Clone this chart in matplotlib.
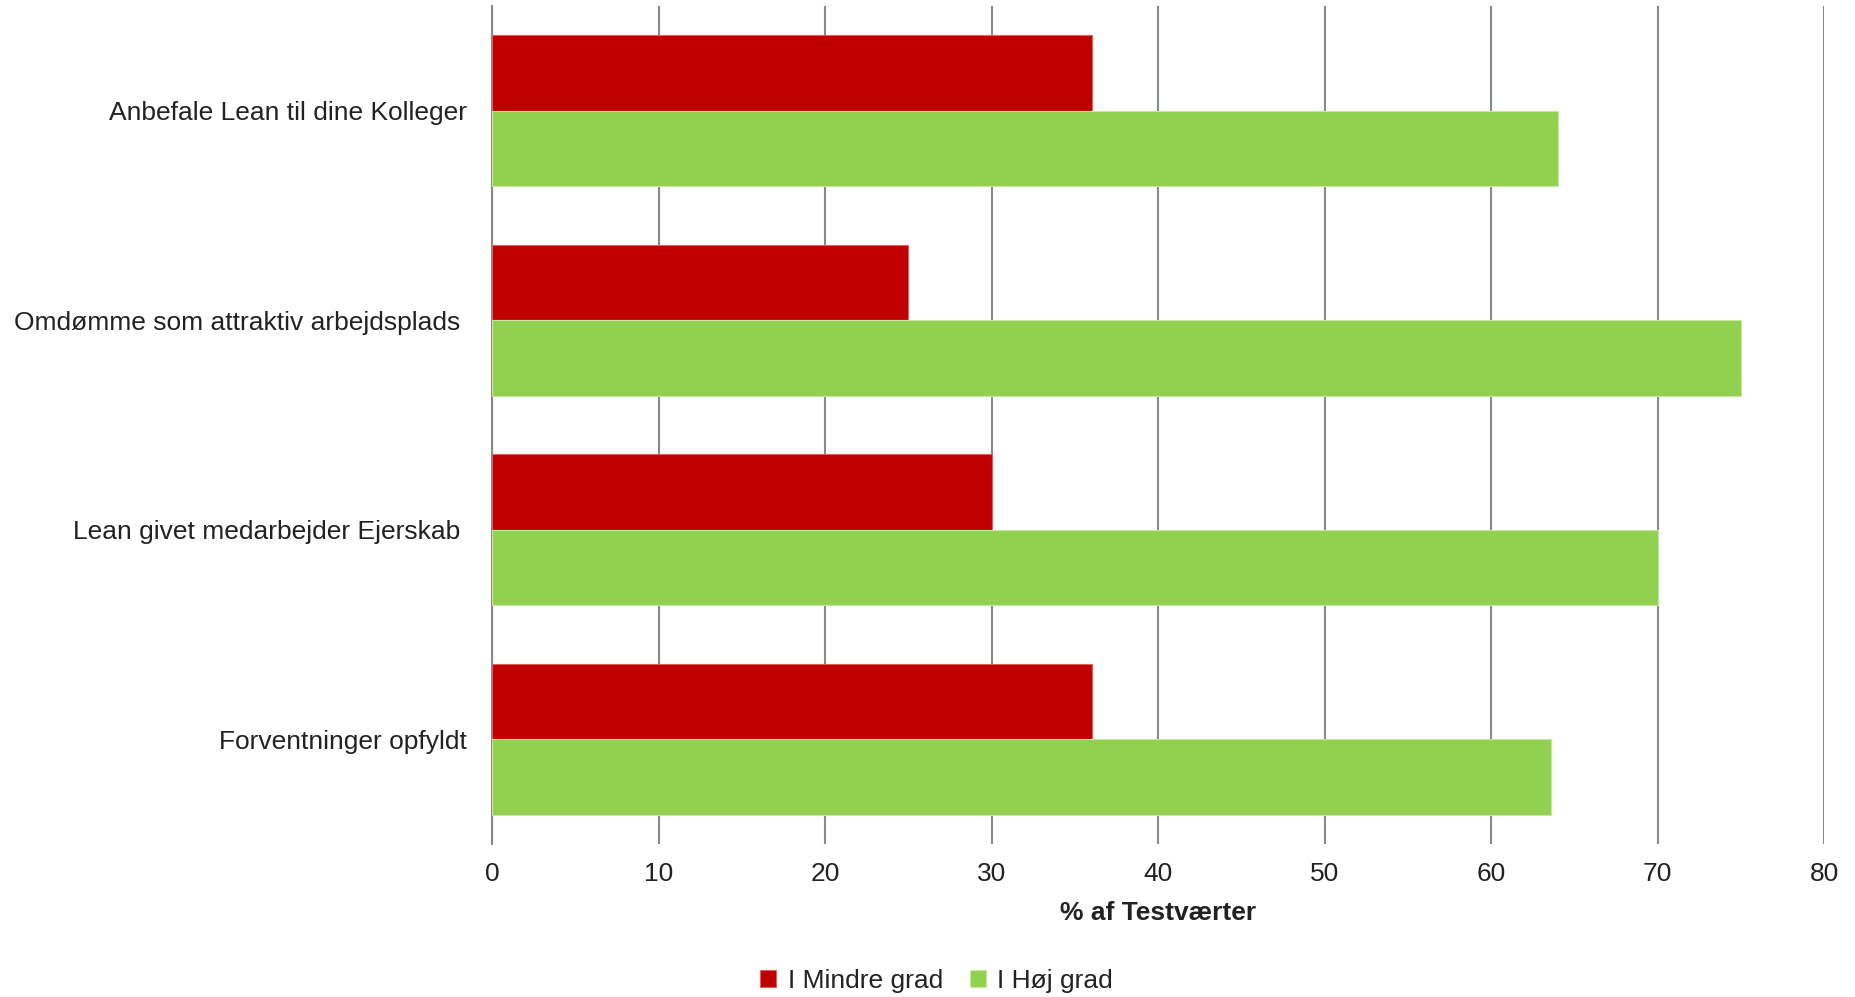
import matplotlib
matplotlib.use("Agg")
import matplotlib.pyplot as plt
import numpy as np

categories = ["Anbefale Lean til dine Kolleger", "Omdømme som attraktiv arbejdsplads ",
              "Lean givet medarbejder Ejerskab ", "Forventninger opfyldt"]
mindre = [36.0, 25.0, 30.0, 36.0]
hoej = [64.0, 75.0, 70.0, 63.6]
series_names = ["I Mindre grad", "I Høj grad"]
xticks = [0, 10, 20, 30, 40, 50, 60, 70, 80]

plt.rcParams['font.family'] = ['Liberation Sans', 'DejaVu Sans']

fig = plt.figure(figsize=(18.55, 9.97), dpi=100)
ax = fig.add_axes([0.2654, 0.1535, 0.7179, 0.8405])

n = len(categories)
y = np.arange(n)
h = 0.36
ax.barh(y - h/2, mindre, height=h, color="#C00000", edgecolor="#e06060", linewidth=0.8,
        label=series_names[0], zorder=3)
ax.barh(y + h/2, hoej, height=h, color="#92D050", edgecolor="#c4e8a0", linewidth=0.8,
        label=series_names[1], zorder=3)

ax.set_ylim(n - 0.5, -0.5)
ax.set_xlim(0, 80)
ax.set_xticks(xticks)
ax.set_xticklabels([str(t) for t in xticks])
ax.set_yticks(y)
ax.set_yticklabels(categories)
ax.tick_params(axis='y', length=0, pad=18, labelsize=19, labelcolor="#222222")
ax.tick_params(axis='x', length=0, pad=13, labelsize=19, labelcolor="#222222")
ax.grid(axis='x', color="#898989", linewidth=1.5, zorder=0)
for s in ['top', 'right', 'bottom']:
    ax.spines[s].set_visible(False)
ax.spines['left'].set_color("#898989")
ax.spines['left'].set_linewidth(1.5)
ax.set_xlabel("% af Testværter", fontsize=19, fontweight='bold', color="#222222", labelpad=11)

fig.legend(loc='center', bbox_to_anchor=(0.505, 0.016), ncol=2, frameon=False,
           fontsize=19, handlelength=0.6, handleheight=0.6, handletextpad=0.45, columnspacing=1.0,
           labelcolor="#222222")

fig.savefig("out.png", dpi=100)
